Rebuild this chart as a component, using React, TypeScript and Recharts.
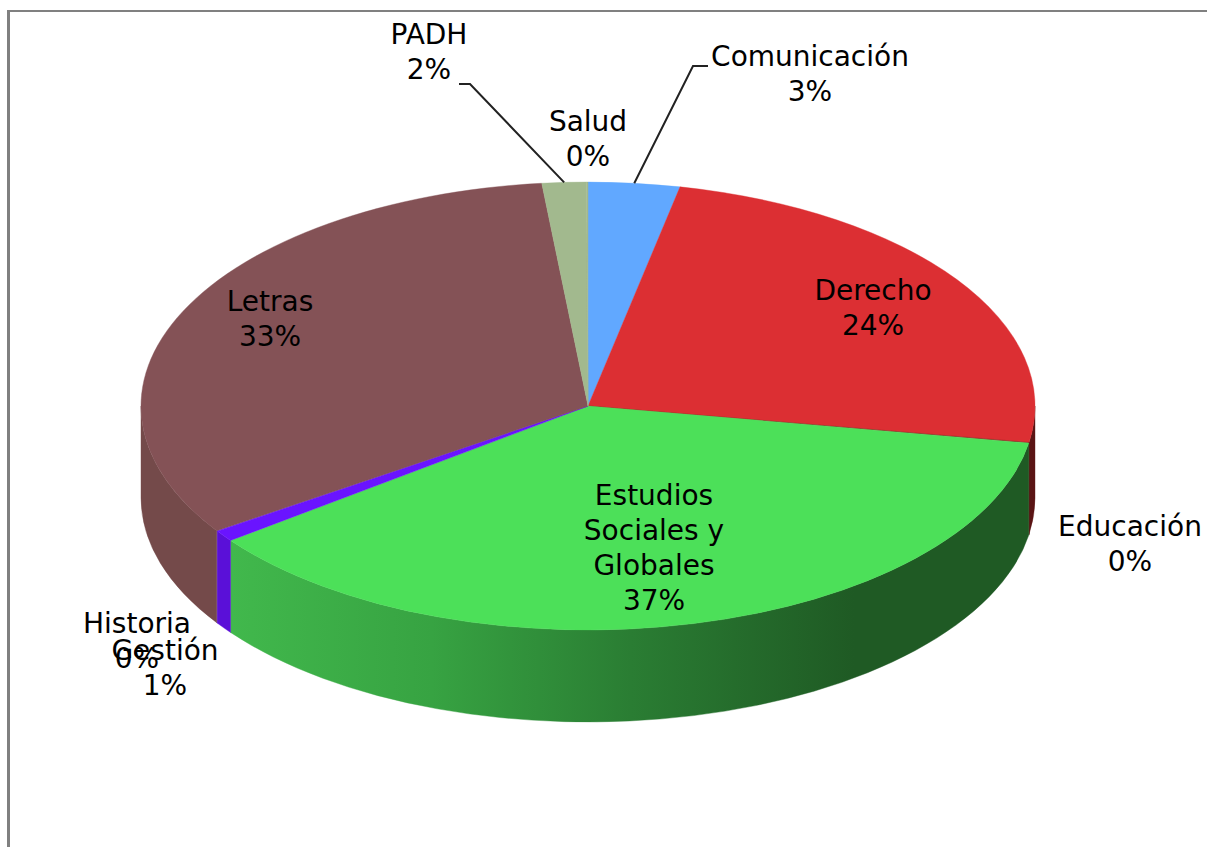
import { PieChart, Pie, Cell } from "recharts"

const categories = ["Comunicación", "Derecho", "Educación", "Estudios Sociales y Globales", "Gestión", "Historia", "Letras", "PADH", "Salud"]
const shares = [3.3, 24.3, 0.05, 37.1, 0.8, 0.05, 32.75, 1.6, 0.05]
const percentLabels = ["3%", "24%", "0%", "37%", "1%", "0%", "33%", "2%", "0%"]
const labelLines = [["Comunicación"], ["Derecho"], ["Educación"], ["Estudios", "Sociales y", "Globales"], ["Gestión"], ["Historia"], ["Letras"], ["PADH"], ["Salud"]]

const topColors = ["#61a8ff", "#dc2f33", "#8a1c1c", "#4ce059", "#6a14ff", "#6a14ff", "#845256", "#a2b98e", "#a2b98e"]
const wallColors = ["#3f6ea6", "#5a1414", "#5a1414", "url(#greenWall)", "#5a10d8", "#5a10d8", "#744a4a", "#6a7a5c", "#6a7a5c"]

const rows = categories.map((name, i) => ({ name, value: shares[i] }))

const CX = 588
const CY = 406
const RX = 447
const SQUASH = 0.501
const DEPTH = 92

// where each label block sits (centre x, first baseline y)
const labelSpots = [
    [810, 66], [873, 300], [1130, 536], [654, 505], [165, 660], [137, 633], [270, 311], [429, 44], [588, 131],
]
const LINE_H = 35
// elbow points of the leader lines
const leaders: Record<number, number[][]> = {
    0: [[693, 66], [708, 66]],
    7: [[470, 84], [459, 84]],
}

function rimPoint(t: number, r: number, dy = 0) {
    const a = (t * Math.PI) / 180
    return [CX + r * Math.sin(a), CY - r * SQUASH * Math.cos(a) + dy]
}

function EllipseSlice(props: any) {
    const { startAngle, endAngle, outerRadius, fill } = props
    const r = outerRadius
    const ry = r * SQUASH
    const t0 = 90 - startAngle
    const t1 = 90 - endAngle
    const [x0, y0] = rimPoint(t0, r)
    const [x1, y1] = rimPoint(t1, r)
    const large = t1 - t0 > 180 ? 1 : 0
    const top = `M${CX},${CY} L${x0},${y0} A${r},${ry} 0 ${large} 1 ${x1},${y1} Z`

    // side wall only for the part of the rim that faces the viewer
    const w0 = Math.max(t0, 90)
    const w1 = Math.min(t1, 270)
    let wall = null
    if (w1 > w0) {
        const [a, b] = rimPoint(w0, r)
        const [c, d] = rimPoint(w1, r)
        wall = `M${a},${b} A${r},${ry} 0 0 1 ${c},${d} L${c},${d + DEPTH} A${r},${ry} 0 0 0 ${a},${b + DEPTH} Z`
    }
    const wallFill = wallColors[topColors.indexOf(fill)]
    return (
        <g>
            <defs>
                <linearGradient id="greenWall" gradientUnits="userSpaceOnUse" x1="232" y1="0" x2="1030" y2="0">
                    <stop offset="0" stopColor="#41b84c" />
                    <stop offset="0.25" stopColor="#37a342" />
                    <stop offset="0.5" stopColor="#2a7d33" />
                    <stop offset="0.78" stopColor="#1f5a24" />
                    <stop offset="1" stopColor="#1f5a24" />
                </linearGradient>
            </defs>
            {wall && <path d={wall} fill={wallFill} stroke={wallFill} strokeWidth={0.4} />}
            <path d={top} fill={fill} stroke={fill} strokeWidth={0.4} />
        </g>
    )
}

function SliceLabel(props: any) {
    const { index, midAngle, outerRadius } = props
    const [x, y] = labelSpots[index]
    const lines = [...labelLines[index], percentLabels[index]]
    const elbow = leaders[index]
    let leader = null
    if (elbow) {
        const start = rimPoint(90 - midAngle, outerRadius)
        leader = <polyline points={[start, ...elbow].map((p) => p.join(",")).join(" ")} fill="none" stroke="#222" strokeWidth={2} />
    }
    return (
        <g>
            {leader}
            <text textAnchor="middle" fontFamily="'DejaVu Sans', sans-serif" fontSize={28} fill="#000">
                {lines.map((l, i) => (
                    <tspan key={i} x={x} y={y + i * LINE_H}>{l}</tspan>
                ))}
            </text>
        </g>
    )
}

export default function App() {
    return (
        <div style={{ position: "absolute", left: 0, top: 0, width: 1207, height: 847, overflow: "hidden", background: "#fff" }}>
            <div style={{ position: "absolute", left: 7, top: 10, width: 1300, height: 1000, borderLeft: "3px solid #808080", borderTop: "2.5px solid #808080" }} />
            <div style={{ position: "absolute", left: 0, top: 0 }}>
                <PieChart width={1207} height={847} margin={{ top: 0, right: 0, bottom: 0, left: 0 }}>
                    <Pie
                        data={rows}
                        dataKey="value"
                        nameKey="name"
                        cx={CX}
                        cy={CY}
                        innerRadius={0}
                        outerRadius={RX}
                        startAngle={90}
                        endAngle={-270}
                        paddingAngle={0}
                        stroke="none"
                        shape={EllipseSlice}
                        label={SliceLabel}
                        labelLine={false}
                        isAnimationActive={false}
                    >
                        {rows.map((r, i) => (
                            <Cell key={r.name} fill={topColors[i]} />
                        ))}
                    </Pie>
                </PieChart>
            </div>
        </div>
    )
}
